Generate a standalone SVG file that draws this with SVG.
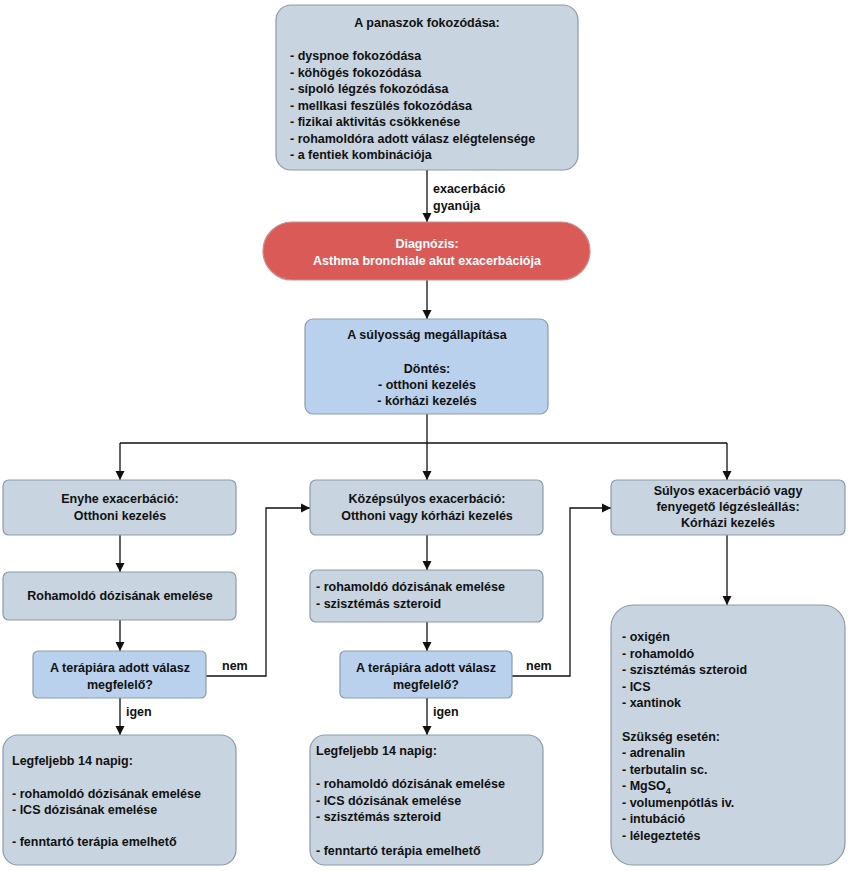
<svg xmlns="http://www.w3.org/2000/svg" width="850" height="871" viewBox="0 0 850 871">
<defs>
<marker id="ar" viewBox="0 0 10 10" refX="10" refY="5" markerWidth="7" markerHeight="7" orient="auto"><path d="M0,0 L10,5 L0,10 z" fill="#111"/></marker>
<style>
text{font-family:"Liberation Sans",Arial,sans-serif;font-weight:bold;font-size:12.5px;fill:#111}
.c{text-anchor:middle}
.g{fill:#c8d4df;stroke:#8c9bab;stroke-width:1.2}
.b{fill:#b9d1ec;stroke:#8c9bab;stroke-width:1.2}
.r{fill:#d95a57;stroke:#c9908e;stroke-width:1.2}
.w{fill:#fff}
.ln{fill:none;stroke:#111;stroke-width:1.3}
</style>
</defs>
<rect width="850" height="871" fill="#fff"/>
<g id="connectors">
<path class="ln" d="M427,170 V222" marker-end="url(#ar)"/>
<path class="ln" d="M427,280 V319" marker-end="url(#ar)"/>
<path class="ln" d="M427,414 V443 M120,443 H727"/>
<path class="ln" d="M120,443 V480" marker-end="url(#ar)"/>
<path class="ln" d="M427,443 V480" marker-end="url(#ar)"/>
<path class="ln" d="M727,443 V480" marker-end="url(#ar)"/>
<path class="ln" d="M120,535 V572" marker-end="url(#ar)"/>
<path class="ln" d="M120,620 V651" marker-end="url(#ar)"/>
<path class="ln" d="M120,698 V735" marker-end="url(#ar)"/>
<path class="ln" d="M206,676 H266 V508 H310" marker-end="url(#ar)"/>
<path class="ln" d="M427,535 V570" marker-end="url(#ar)"/>
<path class="ln" d="M427,622 V651" marker-end="url(#ar)"/>
<path class="ln" d="M427,698 V735" marker-end="url(#ar)"/>
<path class="ln" d="M512,676 H570 V508 H611" marker-end="url(#ar)"/>
<path class="ln" d="M727,535 V605" marker-end="url(#ar)"/>
<text x="433" y="193">exacerbáció</text>
<text x="433" y="210">gyanúja</text>
<text x="222" y="670">nem</text>
<text x="526" y="670">nem</text>
<text x="126" y="716">igen</text>
<text x="433" y="716">igen</text>
</g>
<g id="n-panaszok">
<rect class="g" x="276" y="5" width="302" height="165" rx="15"/>
<text class="c" x="427" y="27">A panaszok fokozódása:</text>
<text x="290" y="60">- dyspnoe fokozódása</text>
<text x="290" y="76.5">- köhögés fokozódása</text>
<text x="290" y="93">- sípoló légzés fokozódása</text>
<text x="290" y="109.5">- mellkasi feszülés fokozódása</text>
<text x="290" y="126">- fizikai aktivitás csökkenése</text>
<text x="290" y="142.5">- rohamoldóra adott válasz elégtelensége</text>
<text x="290" y="159">- a fentiek kombinációja</text>
</g>
<g id="n-diag">
<rect class="r" x="263" y="222" width="327" height="58" rx="29"/>
<text class="c w" x="427" y="248">Diagnózis:</text>
<text class="c w" x="427" y="265">Asthma bronchiale akut exacerbációja</text>
</g>
<g id="n-sulyossag">
<rect class="b" x="305" y="319" width="243" height="95" rx="8"/>
<text class="c" x="427" y="339">A súlyosság megállapítása</text>
<text class="c" x="427" y="373">Döntés:</text>
<text class="c" x="427" y="389">- otthoni kezelés</text>
<text class="c" x="427" y="405">- kórházi kezelés</text>
</g>
<g id="n-enyhe">
<rect class="g" x="3" y="480" width="233" height="55" rx="6"/>
<text class="c" x="120" y="503">Enyhe exacerbáció:</text>
<text class="c" x="120" y="520">Otthoni kezelés</text>
</g>
<g id="n-kozep">
<rect class="g" x="310" y="480" width="233" height="55" rx="6"/>
<text class="c" x="427" y="503">Középsúlyos exacerbáció:</text>
<text class="c" x="427" y="520">Otthoni vagy kórházi kezelés</text>
</g>
<g id="n-sulyos">
<rect class="g" x="611" y="480" width="234" height="55" rx="6"/>
<text class="c" x="728" y="495">Súlyos exacerbáció vagy</text>
<text class="c" x="728" y="511">fenyegető légzésleállás:</text>
<text class="c" x="728" y="527">Kórházi kezelés</text>
</g>
<g id="n-roham1">
<rect class="g" x="3" y="572" width="233" height="48" rx="6"/>
<text class="c" x="120" y="600">Rohamoldó dózisának emelése</text>
</g>
<g id="n-roham2">
<rect class="g" x="310" y="570" width="233" height="52" rx="6"/>
<text x="316" y="591">- rohamoldó dózisának emelése</text>
<text x="316" y="608">- szisztémás szteroid</text>
</g>
<g id="n-q1">
<rect class="b" x="33" y="651" width="173" height="47" rx="5"/>
<text class="c" x="120" y="672">A terápiára adott válasz</text>
<text class="c" x="120" y="689">megfelelő?</text>
</g>
<g id="n-q2">
<rect class="b" x="340" y="651" width="172" height="47" rx="5"/>
<text class="c" x="426" y="672">A terápiára adott válasz</text>
<text class="c" x="426" y="689">megfelelő?</text>
</g>
<g id="n-leg1">
<rect class="g" x="3" y="735" width="233" height="130" rx="15"/>
<text x="12" y="765">Legfeljebb 14 napig:</text>
<text x="12" y="798">- rohamoldó dózisának emelése</text>
<text x="12" y="814">- ICS dózisának emelése</text>
<text x="12" y="846">- fenntartó terápia emelhető</text>
</g>
<g id="n-leg2">
<rect class="g" x="310" y="735" width="233" height="130" rx="15"/>
<text x="316" y="755">Legfeljebb 14 napig:</text>
<text x="316" y="788">- rohamoldó dózisának emelése</text>
<text x="316" y="805">- ICS dózisának emelése</text>
<text x="316" y="821">- szisztémás szteroid</text>
<text x="316" y="855">- fenntartó terápia emelhető</text>
</g>
<g id="n-korhaz">
<rect class="g" x="611" y="605" width="234" height="260" rx="22"/>
<text x="622" y="641">- oxigén</text>
<text x="622" y="658">- rohamoldó</text>
<text x="622" y="674">- szisztémás szteroid</text>
<text x="622" y="691">- ICS</text>
<text x="622" y="707">- xantinok</text>
<text x="622" y="741">Szükség esetén:</text>
<text x="622" y="757">- adrenalin</text>
<text x="622" y="774">- terbutalin sc.</text>
<text x="622" y="790">- MgSO<tspan dy="4" font-size="9">4</tspan></text>
<text x="622" y="807">- volumenpótlás iv.</text>
<text x="622" y="823">- intubáció</text>
<text x="622" y="840">- lélegeztetés</text>
</g>
</svg>
